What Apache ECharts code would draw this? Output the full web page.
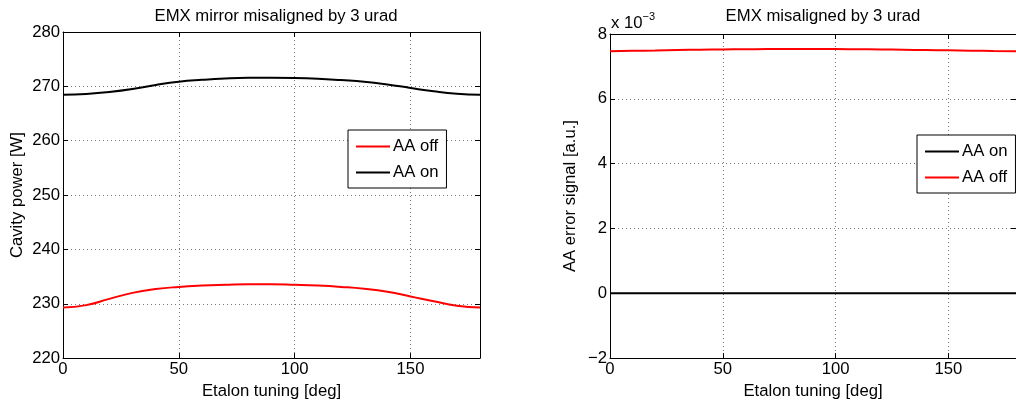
<!DOCTYPE html>
<html>
<head>
<meta charset="utf-8">
<script src="https://cdn.jsdelivr.net/npm/echarts@6/dist/echarts.min.js"></script>
<style>
    html, body { margin: 0; padding: 0; background: #fff; }
    #chart { width: 1016px; height: 405px; }
</style>
</head>
<body>
<div id="chart"></div>
<script>
    // etalon tuning [deg]
    var tuning = [0, 10, 20, 30, 40, 50, 60, 70, 80, 90, 100, 110, 120, 130, 140, 150, 160, 170, 180];
    // left plot: cavity power [W]
    var powerAAoff = [229.3, 229.75, 230.9, 232.0, 232.7, 233.1, 233.35, 233.5, 233.6, 233.6, 233.5, 233.35, 233.1, 232.75, 232.2, 231.35, 230.45, 229.65, 229.3];
    var powerAAon = [268.45, 268.6, 268.95, 269.5, 270.25, 270.85, 271.2, 271.45, 271.58, 271.6, 271.55, 271.4, 271.15, 270.85, 270.35, 269.7, 269.1, 268.65, 268.45];
    // right plot: AA error signal [a.u.], in units of 1e-3
    var errAAon = [0, 0, 0, 0, 0, 0, 0, 0, 0, 0, 0, 0, 0, 0, 0, 0, 0, 0, 0];
    var errAAoff = [7.47, 7.48, 7.49, 7.505, 7.515, 7.525, 7.53, 7.535, 7.535, 7.535, 7.535, 7.53, 7.525, 7.515, 7.505, 7.495, 7.485, 7.475, 7.47];
    // tick labels
    var xTicks = [0, 50, 100, 150];
    var xMax = 180;
    var powerTicks = [220, 230, 240, 250, 260, 270, 280];
    var errTicks = [-2, 0, 2, 4, 6, 8];

    var font = "'Liberation Sans', Arial, Helvetica, sans-serif";
    var fs = 16.7;

    function pairs(ys) {
        var out = [];
        for (var i = 0; i < tuning.length; i++) {
            out.push([tuning[i], ys[i]]);
        }
        return out;
    }

    function minus(v) {
        return String(v).replace('-', '\u2212');
    }

    // main x axis (bottom) with labels, grid lines and name
    function xMain(gi) {
        return {
            type: 'value', gridIndex: gi, position: 'bottom',
            min: xTicks[0], max: xMax, interval: xTicks[1] - xTicks[0],
            name: 'Etalon tuning [deg]', nameLocation: 'middle', nameGap: 23,
            nameTextStyle: { color: '#000', fontSize: fs, fontFamily: font },
            axisLine: { show: true, onZero: false, lineStyle: { color: '#000', width: 1 } },
            axisTick: { show: true, inside: true, length: 5, lineStyle: { color: '#000' } },
            axisLabel: { color: '#000', fontSize: fs, fontFamily: font, margin: 3, showMaxLabel: false },
            splitLine: { show: true, lineStyle: { color: '#777', type: [1, 3], width: 1 } }
        };
    }

    // top x axis, just the frame and ticks
    function xTop(gi) {
        return {
            type: 'value', gridIndex: gi, position: 'top',
            min: xTicks[0], max: xMax, interval: xTicks[1] - xTicks[0],
            axisLine: { show: true, onZero: false, lineStyle: { color: '#000', width: 1 } },
            axisTick: { show: true, inside: true, length: 5, lineStyle: { color: '#000' } },
            axisLabel: { show: false },
            splitLine: { show: false }
        };
    }

    function yMain(gi, ticks, name, gap) {
        return {
            type: 'value', gridIndex: gi, position: 'left',
            min: ticks[0], max: ticks[ticks.length - 1], interval: ticks[1] - ticks[0],
            name: name, nameLocation: 'middle', nameGap: gap,
            nameTextStyle: { color: '#000', fontSize: fs, fontFamily: font },
            axisLine: { show: true, onZero: false, lineStyle: { color: '#000', width: 1 } },
            axisTick: { show: true, inside: true, length: 5, lineStyle: { color: '#000' } },
            axisLabel: { color: '#000', fontSize: fs, fontFamily: font, margin: 3, formatter: minus },
            splitLine: { show: true, lineStyle: { color: '#777', type: [1, 3], width: 1 } }
        };
    }

    function yRight(gi, ticks) {
        return {
            type: 'value', gridIndex: gi, position: 'right',
            min: ticks[0], max: ticks[ticks.length - 1], interval: ticks[1] - ticks[0],
            axisLine: { show: true, onZero: false, lineStyle: { color: '#000', width: 1 } },
            axisTick: { show: true, inside: true, length: 5, lineStyle: { color: '#000' } },
            axisLabel: { show: false },
            splitLine: { show: false }
        };
    }

    function line(name, xi, yi, ys, color) {
        return {
            name: name, type: 'line', xAxisIndex: xi, yAxisIndex: yi,
            data: pairs(ys), smooth: 0.5, symbol: 'none',
            lineStyle: { color: color, width: 2 },
            itemStyle: { color: color },
            z: 5
        };
    }

    function legend(names, left, top) {
        return {
            orient: 'vertical', left: left, top: top,
            data: names.map(function (n) { return { name: n, icon: 'rect' }; }),
            itemWidth: 34, itemHeight: 2, itemGap: 9,
            padding: [8, 8, 7, 8],
            borderColor: '#000', borderWidth: 1, borderRadius: 0,
            backgroundColor: '#fff',
            textStyle: { color: '#000', fontSize: fs, fontFamily: font, padding: [0, 0, 0, -2] }
        };
    }

    var option = {
        backgroundColor: '#fff',
        animation: false,
        title: [
            {
                text: 'EMX mirror misaligned by 3 urad', left: 271, top: 3, textAlign: 'center',
                textStyle: { color: '#000', fontSize: fs, fontWeight: 'normal', fontFamily: font }
            },
            {
                text: 'EMX misaligned by 3 urad', left: 818, top: 3, textAlign: 'center',
                textStyle: { color: '#000', fontSize: fs, fontWeight: 'normal', fontFamily: font }
            },
            {
                text: '{b|x 10}{s|\u22123}', left: 606, top: 2,
                textStyle: {
                    fontWeight: 'normal',
                    rich: {
                        b: { color: '#000', fontSize: fs, fontWeight: 'normal', fontFamily: font, padding: [8, 0, 0, 0] },
                        s: { color: '#000', fontSize: 11, fontWeight: 'normal', fontFamily: font, padding: [0, 0, 6, 0] }
                    }
                }
            }
        ],
        grid: [
            { left: 63, right: 536, top: 32, bottom: 46 },
            { left: 610, right: -12, top: 34, bottom: 46 }
        ],
        xAxis: [xMain(0), xTop(0), xMain(1), xTop(1)],
        yAxis: [
            yMain(0, powerTicks, 'Cavity power [W]', 37),
            yRight(0, powerTicks),
            yMain(1, errTicks, 'AA error signal [a.u.]', 31),
            yRight(1, errTicks)
        ],
        legend: [
            legend(['AA off', 'AA on'], 348, 130),
            legend(['AA on', 'AA off'], 917, 135)
        ],
        series: [
            line('AA off', 0, 0, powerAAoff, '#ff0000'),
            line('AA on', 0, 0, powerAAon, '#000000'),
            line('AA on', 2, 2, errAAon, '#000000'),
            line('AA off', 2, 2, errAAoff, '#ff0000')
        ]
    };

    var chart = echarts.init(document.getElementById('chart'));
    chart.setOption(option);
</script>
</body>
</html>
